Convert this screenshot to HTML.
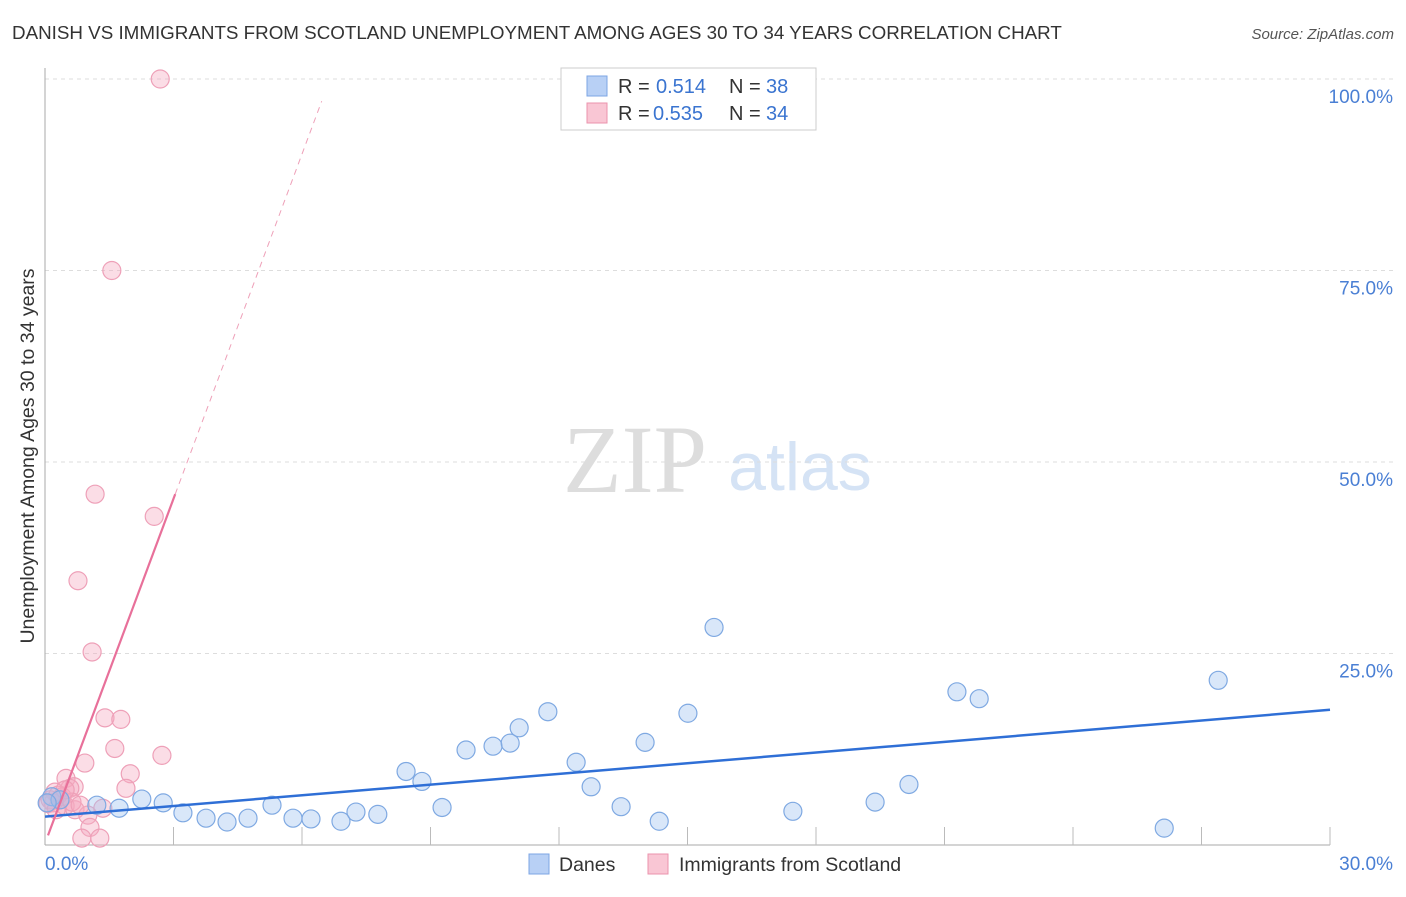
<!DOCTYPE html>
<html><head><meta charset="utf-8"><style>
body{margin:0;background:#fff;font-family:"Liberation Sans",sans-serif}
</style></head><body>
<svg width="1406" height="892" xmlns="http://www.w3.org/2000/svg">
<text x="12" y="39" font-size="18.8" fill="#333">DANISH VS IMMIGRANTS FROM SCOTLAND UNEMPLOYMENT AMONG AGES 30 TO 34 YEARS CORRELATION CHART</text>
<text x="1394" y="39" font-size="15" fill="#555" font-style="italic" text-anchor="end">Source: ZipAtlas.com</text>
<text x="635" y="492" font-size="96" fill="#ddd" font-family="Liberation Serif,serif" text-anchor="middle">ZIP</text>
<text x="800" y="490" font-size="68" fill="#d5e3f5" text-anchor="middle">atlas</text>
<g id="grid"></g>
<g id="marks"></g>
<text transform="translate(34,456) rotate(-90)" font-size="19.5" fill="#333" text-anchor="middle">Unemployment Among Ages 30 to 34 years</text>
<text x="45" y="870" font-size="19" fill="#4a7fd4">0.0%</text>
<text x="1393" y="870" font-size="19" fill="#4a7fd4" text-anchor="end">30.0%</text>
<g>
<rect x="561" y="68" width="255" height="62" fill="#fff" stroke="#ccc"/>
<rect x="587" y="76" width="20" height="20" fill="#b8d0f5" stroke="#7da6e4"/>
<text x="618" y="93" font-size="20" fill="#333">R =</text>
<text x="656" y="93" font-size="20" fill="#3a74d0">0.514</text>
<text x="729" y="93" font-size="20" fill="#333">N =</text>
<text x="766" y="93" font-size="20" fill="#3a74d0">38</text>
<rect x="587" y="103" width="20" height="20" fill="#f9c6d4" stroke="#eb93ad"/>
<text x="618" y="120" font-size="20" fill="#333">R =</text>
<text x="653" y="120" font-size="20" fill="#3a74d0">0.535</text>
<text x="729" y="120" font-size="20" fill="#333">N =</text>
<text x="766" y="120" font-size="20" fill="#3a74d0">34</text>
</g>
<g>
<rect x="529" y="854" width="20" height="20" fill="#b8d0f5" stroke="#7da6e4"/>
<text x="559" y="871" font-size="19.5" fill="#333">Danes</text>
<rect x="648" y="854" width="20" height="20" fill="#f9c6d4" stroke="#eb93ad"/>
<text x="679" y="871" font-size="19.5" fill="#333">Immigrants from Scotland</text>
</g>
</svg>
<script>
const yTicks=[25,50,75,100];
const yTickLabels=["25.0%","50.0%","75.0%","100.0%"];
const xTicks=[3,6,9,12,15,18,21,24,27,30];
const danesX=[0.16,1.21,1.73,2.26,2.76,3.22,3.76,4.25,4.74,5.30,5.79,6.21,6.91,7.26,7.77,8.43,8.80,9.27,9.83,10.46,10.86,11.07,11.74,12.40,12.75,13.45,14.01,14.34,15.01,15.62,17.46,19.38,20.17,21.29,21.81,26.13,27.39,0.35,0.05];
const danesY=[6.3,5.2,4.8,6.0,5.5,4.2,3.5,3.0,3.5,5.2,3.5,3.4,3.1,4.3,4.0,9.6,8.3,4.9,12.4,12.9,13.3,15.3,17.4,10.8,7.6,5.0,13.4,3.1,17.2,28.4,4.4,5.6,7.9,20.0,19.1,2.2,21.5,5.9,5.5];
const scotX=[2.69,1.56,1.17,2.55,0.77,1.10,1.40,1.77,1.63,2.73,0.93,1.99,0.49,1.89,0.68,0.58,0.23,0.35,0.12,0.19,0.47,0.70,1.00,1.35,1.05,0.86,1.28,0.30,0.40,0.07,0.63,0.82,0.26,0.47];
const scotY=[100,75,45.8,42.9,34.5,25.2,16.6,16.4,12.6,11.7,10.7,9.3,8.7,7.4,7.6,7.4,6.9,5.9,5.9,5.5,5.1,4.6,3.9,4.8,2.3,0.9,0.9,6.5,6.3,5.4,5.6,5.2,4.6,7.2];
const trendDanes=[3.7,0.465];
const trendScot=[0.2,15.0];
const X=v=>45+v*1285/30, Y=v=>845-v*7.66;
const NS="http://www.w3.org/2000/svg";
function mk(t,a,p){const e=document.createElementNS(NS,t);for(const k in a)e.setAttribute(k,a[k]);p.appendChild(e);return e;}
const g=document.getElementById('grid'),m=document.getElementById('marks');
yTicks.forEach((v,i)=>{
 const l=mk('line',{x1:45,x2:1393,y1:Y(v),y2:Y(v),stroke:'#ddd','stroke-dasharray':'4,4'},g);
 
 
 const t=mk('text',{x:1393,y:Y(v)+24,'font-size':19,fill:'#4a7fd4','text-anchor':'end'},g);t.textContent=yTickLabels[i];
 
 
});
const ax=mk('line',{x1:45,x2:45,y1:68,y2:845,stroke:'#aaa'},g);


const bx=mk('line',{x1:45,x2:1330,y1:845,y2:845,stroke:'#aaa'},g);


xTicks.forEach(v=>{const t=mk('line',{x1:X(v),x2:X(v),y1:827,y2:845,stroke:'#bbb'},g);
 
 });
scotX.forEach((x,i)=>{const c=mk('circle',{cx:X(x),cy:Y(scotY[i]),r:9,fill:'rgba(246,170,192,0.4)',stroke:'#eea0b8','stroke-width':1.2},m);
 
 });
danesX.forEach((x,i)=>{const c=mk('circle',{cx:X(x),cy:Y(danesY[i]),r:9,fill:'rgba(160,196,240,0.4)',stroke:'#7fa9e2','stroke-width':1.2},m);
 
 });
const ld=mk('line',{x1:X(0),y1:Y(trendDanes[0]),x2:X(30),y2:Y(trendDanes[0]+30*trendDanes[1]),stroke:'#2f6fd6','stroke-width':2.5},m);


const ps=mk('line',{x1:X(0.07),y1:Y(trendScot[0]+0.07*trendScot[1]),x2:X(3.04),y2:Y(trendScot[0]+3.04*trendScot[1]),stroke:'#e8709a','stroke-width':2.2},m);


const pd=mk('line',{x1:X(3.04),y1:Y(trendScot[0]+3.04*trendScot[1]),x2:X(6.46),y2:Y(trendScot[0]+6.46*trendScot[1]),stroke:'#eea0b8','stroke-width':1,'stroke-dasharray':'6,5'},m);


</script>
</body></html>
